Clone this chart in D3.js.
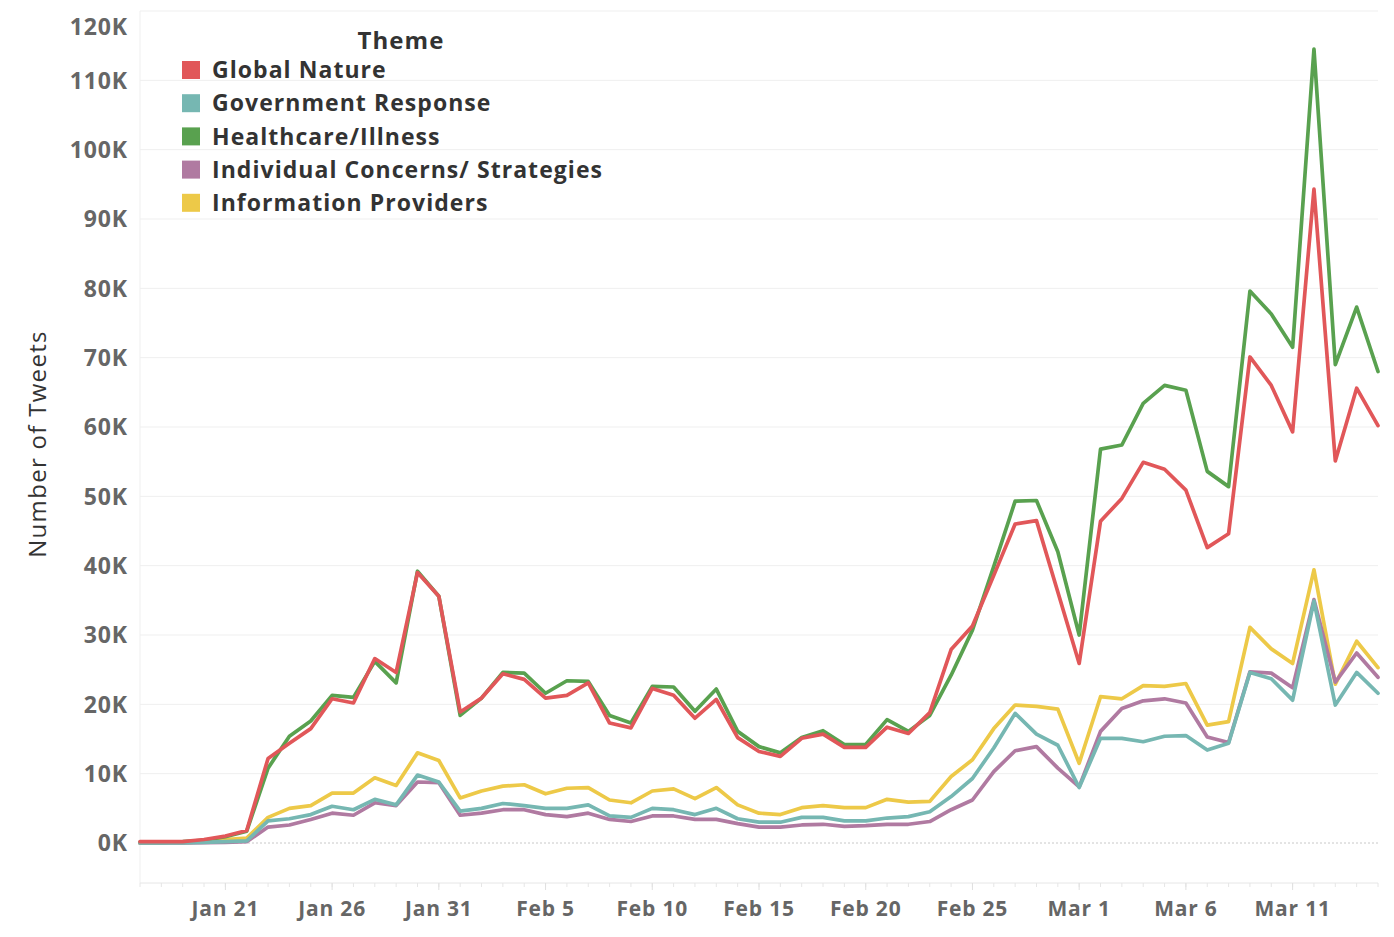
<!DOCTYPE html>
<html>
<head>
<meta charset="utf-8">
<script src="https://cdn.jsdelivr.net/npm/d3@7"></script>
<style>
  html, body { margin: 0; padding: 0; background: #fff; }
  svg { display: block; }
</style>
</head>
<body>
<svg id="chart" width="1394" height="937"></svg>
<script>
// ---- DATA ----
const dates = [
  "2020-01-17","2020-01-18","2020-01-19","2020-01-20","2020-01-21","2020-01-22","2020-01-23","2020-01-24",
  "2020-01-25","2020-01-26","2020-01-27","2020-01-28","2020-01-29","2020-01-30","2020-01-31","2020-02-01",
  "2020-02-02","2020-02-03","2020-02-04","2020-02-05","2020-02-06","2020-02-07","2020-02-08","2020-02-09",
  "2020-02-10","2020-02-11","2020-02-12","2020-02-13","2020-02-14","2020-02-15","2020-02-16","2020-02-17",
  "2020-02-18","2020-02-19","2020-02-20","2020-02-21","2020-02-22","2020-02-23","2020-02-24","2020-02-25",
  "2020-02-26","2020-02-27","2020-02-28","2020-02-29","2020-03-01","2020-03-02","2020-03-03","2020-03-04",
  "2020-03-05","2020-03-06","2020-03-07","2020-03-08","2020-03-09","2020-03-10","2020-03-11","2020-03-12",
  "2020-03-13","2020-03-14","2020-03-15"
];

// values in thousands of tweets
const globalNature = [
  0.2,0.2,0.2,0.5,1.0,1.8,12.2,14.4,16.5,20.8,20.2,26.6,24.6,39.0,35.6,18.9,
  20.9,24.4,23.6,20.9,21.3,23.1,17.3,16.6,22.3,21.3,18.0,20.7,15.2,13.2,12.5,15.1,
  15.7,13.8,13.8,16.7,15.8,18.8,27.9,31.3,38.6,46.0,46.5,36.2,25.9,46.4,49.7,54.9,
  53.9,50.9,42.6,44.6,70.1,66.0,59.3,94.3,55.1,65.6,60.2
];
const governmentResponse = [
  0,0,0,0.1,0.2,0.3,3.2,3.5,4.1,5.3,4.8,6.3,5.5,9.8,8.8,4.6,
  5.0,5.7,5.4,5.0,5.0,5.5,3.9,3.7,5.0,4.8,4.1,5.0,3.5,3.0,3.0,3.7,
  3.7,3.2,3.2,3.6,3.8,4.5,6.7,9.3,13.7,18.7,15.7,14.1,8.0,15.1,15.1,14.6,
  15.4,15.5,13.4,14.4,24.6,23.7,20.6,34.9,19.9,24.6,21.6
];
const healthcareIllness = [
  0.1,0.1,0.2,0.4,0.9,1.7,10.8,15.4,17.6,21.3,21.0,26.2,23.1,39.2,35.6,18.4,
  20.9,24.6,24.5,21.6,23.4,23.3,18.4,17.3,22.6,22.5,19.0,22.2,16.1,13.9,13.0,15.2,
  16.2,14.2,14.2,17.8,16.1,18.4,24.2,30.7,39.9,49.3,49.4,42.0,30.0,56.8,57.4,63.4,
  66.0,65.3,53.6,51.4,79.6,76.3,71.5,114.5,69.0,77.3,68.0
];
const individualConcerns = [
  0,0,0,0.05,0.1,0.2,2.3,2.6,3.4,4.3,4.0,5.8,5.4,8.8,8.7,4.0,
  4.3,4.8,4.8,4.1,3.8,4.3,3.4,3.1,3.9,3.9,3.4,3.4,2.8,2.3,2.3,2.6,
  2.7,2.4,2.5,2.7,2.7,3.1,4.8,6.2,10.3,13.3,13.9,10.8,8.1,16.1,19.4,20.5,
  20.8,20.2,15.3,14.5,24.7,24.5,22.4,35.1,23.2,27.4,23.9
];
const informationProviders = [
  0,0,0.05,0.2,0.5,0.7,3.7,5.0,5.4,7.2,7.2,9.4,8.3,13.0,11.9,6.5,
  7.5,8.2,8.4,7.1,7.9,8.0,6.2,5.8,7.5,7.8,6.4,8.0,5.5,4.3,4.1,5.1,
  5.4,5.1,5.1,6.3,5.9,6.0,9.6,12.0,16.5,19.9,19.7,19.3,11.5,21.1,20.8,22.7,
  22.6,23.0,17.0,17.5,31.1,28.0,25.9,39.4,22.9,29.1,25.3
];

const themes = ["Global Nature","Government Response","Healthcare/Illness","Individual Concerns/ Strategies","Information Providers"];
const themeValues = [globalNature, governmentResponse, healthcareIllness, individualConcerns, informationProviders];
const themeColors = ["#e15759","#76b7b2","#59a14f","#b07aa1","#edc948"];

const yTicks = [0,10,20,30,40,50,60,70,80,90,100,110,120];
const xTickDates = ["2020-01-21","2020-01-26","2020-01-31","2020-02-05","2020-02-10","2020-02-15","2020-02-20","2020-02-25","2020-03-01","2020-03-06","2020-03-11"];

// ---- LAYOUT ----
const svg = d3.select("#chart");
const plotLeft = 140, plotRight = 1378, plotTop = 11, plotBottom = 883;
const parse = d3.utcParse("%Y-%m-%d");
const dateObjs = dates.map(parse);

const x = d3.scaleUtc()
  .domain([dateObjs[0], dateObjs[dateObjs.length - 1]])
  .range([plotLeft, plotRight]);
const y = d3.scaleLinear().domain([0, 120]).range([843, plotTop]);

const font = "'Open Sans', 'Noto Sans', sans-serif";

// gridlines
svg.append("g").selectAll("line")
  .data(yTicks.filter(d => d !== 0))
  .join("line")
  .attr("x1", plotLeft).attr("x2", plotRight)
  .attr("y1", d => y(d)).attr("y2", d => y(d))
  .attr("stroke", "#efefef").attr("stroke-width", 1);

// zero line (dotted)
svg.append("line")
  .attr("x1", plotLeft).attr("x2", plotRight)
  .attr("y1", y(0)).attr("y2", y(0))
  .attr("stroke", "#c8c8c8").attr("stroke-width", 1)
  .attr("stroke-dasharray", "2,2");

// frame: left border and bottom axis line
svg.append("line")
  .attr("x1", plotLeft).attr("x2", plotLeft)
  .attr("y1", plotTop).attr("y2", plotBottom)
  .attr("stroke", "#efefef");
svg.append("line")
  .attr("x1", plotLeft).attr("x2", plotRight)
  .attr("y1", plotBottom).attr("y2", plotBottom)
  .attr("stroke", "#e6e6e6");

// y-axis labels
svg.append("g").selectAll("text")
  .data(yTicks)
  .join("text")
  .attr("x", 128)
  .attr("y", d => Math.max(y(d), plotTop + 16))
  .attr("dy", "0.36em")
  .attr("text-anchor", "end")
  .attr("font-family", font)
  .attr("font-weight", 700)
  .attr("font-size", 23)
  .attr("letter-spacing", "0.9px")
  .attr("fill", "#666")
  .text(d => d + "K");

// y-axis title
svg.append("text")
  .attr("transform", "translate(46,444) rotate(-90)")
  .attr("text-anchor", "middle")
  .attr("font-family", font)
  .attr("font-size", 24)
  .attr("letter-spacing", "1.3px")
  .attr("fill", "#333")
  .text("Number of Tweets");

// x-axis ticks (daily minor) and labels
const fmt = d3.utcFormat("%b %-d");
svg.append("g").selectAll("line")
  .data(dateObjs)
  .join("line")
  .attr("x1", d => x(d)).attr("x2", d => x(d))
  .attr("y1", plotBottom).attr("y2", plotBottom + 4)
  .attr("stroke", "#e6e6e6");
const xTickObjs = xTickDates.map(parse);
svg.append("g").selectAll("line")
  .data(xTickObjs)
  .join("line")
  .attr("x1", d => x(d)).attr("x2", d => x(d))
  .attr("y1", plotBottom).attr("y2", plotBottom + 7)
  .attr("stroke", "#e0e0e0");
svg.append("g").selectAll("text")
  .data(xTickObjs)
  .join("text")
  .attr("x", d => x(d))
  .attr("y", 908)
  .attr("dy", "0.36em")
  .attr("text-anchor", "middle")
  .attr("font-family", font)
  .attr("font-weight", 700)
  .attr("font-size", 21)
  .attr("letter-spacing", "0.8px")
  .attr("fill", "#666")
  .text(d => fmt(d));

// lines (drawn in reverse legend order so Global Nature is on top)
const line = d3.line()
  .x((d, i) => x(dateObjs[i]))
  .y(d => y(d));
const order = d3.range(themes.length).reverse();
svg.append("g").selectAll("path")
  .data(order)
  .join("path")
  .attr("d", i => line(themeValues[i]))
  .attr("fill", "none")
  .attr("stroke", i => themeColors[i])
  .attr("stroke-width", 3.7)
  .attr("stroke-linejoin", "round")
  .attr("stroke-linecap", "round");

// legend
const legend = svg.append("g");
legend.append("text")
  .attr("x", 401).attr("y", 40).attr("dy", "0.36em")
  .attr("text-anchor", "middle")
  .attr("font-family", font).attr("font-weight", 700).attr("font-size", 24)
  .attr("letter-spacing", "1.1px")
  .attr("fill", "#333")
  .text("Theme");
const items = legend.selectAll("g.item")
  .data(themes)
  .join("g")
  .attr("class", "item")
  .attr("transform", (d, i) => `translate(182,${70 + i * 33.2})`);
items.append("rect")
  .attr("x", 0).attr("y", -9).attr("width", 18).attr("height", 18)
  .attr("fill", (d, i) => themeColors[i]);
items.append("text")
  .attr("x", 30).attr("y", 0).attr("dy", "0.36em")
  .attr("font-family", font).attr("font-weight", 700).attr("font-size", 23)
  .attr("letter-spacing", "1.05px")
  .attr("fill", "#333")
  .text(d => d);
</script>
</body>
</html>
